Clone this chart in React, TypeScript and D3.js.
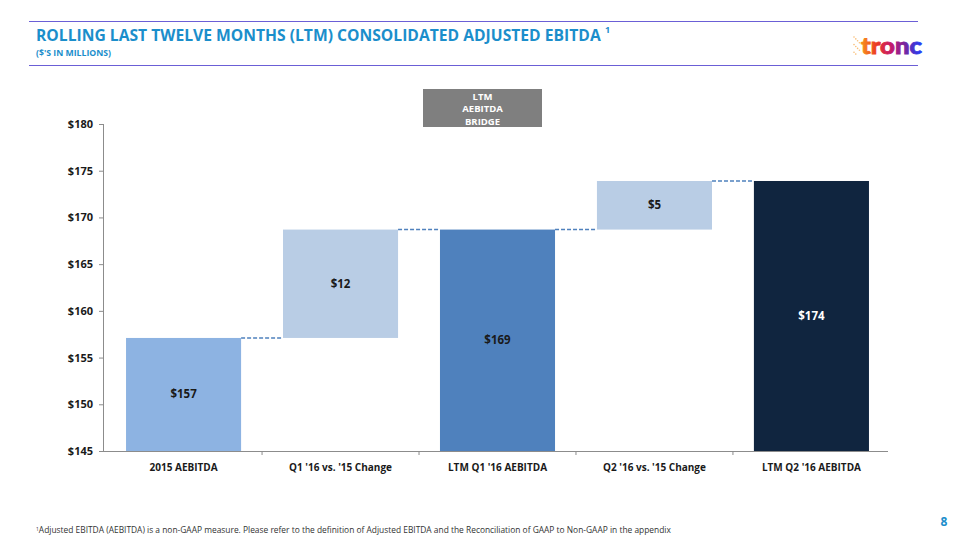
import React, { useLayoutEffect, useRef, useState } from "react";
import * as d3 from "d3";

const categories = [
  "2015 AEBITDA",
  "Q1 '16 vs. '15 Change",
  "LTM Q1 '16 AEBITDA",
  "Q2 '16 vs. '15 Change",
  "LTM Q2 '16 AEBITDA",
];
const barLow = [145, 157.1, 145, 168.7, 145];
const barHigh = [157.1, 168.7, 168.7, 173.9, 173.9];
const barLabels = ["$157", "$12", "$169", "$5", "$174"];
const barColors = ["#8db3e2", "#b9cde5", "#4f81bd", "#b9cde5", "#10253f"];
const labelColors = ["#1a1a1a", "#1a1a1a", "#1a1a1a", "#1a1a1a", "#ffffff"];
const yTicks = [145, 150, 155, 160, 165, 170, 175, 180];
const bridgeLines = ["LTM", "AEBITDA", "BRIDGE"];
const titleText = "ROLLING LAST TWELVE MONTHS (LTM) CONSOLIDATED ADJUSTED EBITDA";

const W = 960;
const H = 540;
const FONT = "'Open Sans', 'Noto Sans', sans-serif";

export default function App() {
  const titleRef = useRef<SVGTextElement>(null);
  const [titleSize, setTitleSize] = useState(16);
  useLayoutEffect(() => {
    const el = titleRef.current;
    if (!el) return;
    const len = el.getComputedTextLength();
    if (len > 0) {
      const target = 565;
      const s = (titleSize * target) / len;
      if (Math.abs(s - titleSize) > 0.05) setTitleSize(s);
    }
  }, [titleSize]);

  const y = d3.scaleLinear().domain([145, 180]).range([451, 124]);
  const x = d3
    .scaleBand<string>()
    .domain(categories)
    .range([105, 890])
    .paddingInner(0.267)
    .paddingOuter(0.134);
  const step = x.step();
  const axisX0 = 103;
  const axisX1 = 888;
  const boundaries = categories.slice(1).map((c) => (x(c) as number) - (step - x.bandwidth()) / 2);

  return (
    <svg
      width={W}
      height={H}
      style={{ position: "absolute", left: 0, top: 0, background: "#fff" }}
      fontFamily={FONT}
    >
      <defs>
        <linearGradient id="logoGrad" x1="0" x2="1" y1="0" y2="0">
          <stop offset="0%" stopColor="#f7941d" />
          <stop offset="25%" stopColor="#ec3a24" />
          <stop offset="50%" stopColor="#c2186f" />
          <stop offset="75%" stopColor="#6a2aa8" />
          <stop offset="100%" stopColor="#1e3cff" />
        </linearGradient>
      </defs>
      <rect x={0} y={0} width={W} height={H} fill="#fff" />
      {/* header */}
      <line x1={29} x2={918} y1={21.5} y2={21.5} stroke="#6b5fd6" strokeWidth={1.2} />
      <line x1={29} x2={918} y1={65.5} y2={65.5} stroke="#6b5fd6" strokeWidth={1.2} />
      <text ref={titleRef} x={36} y={41} fontSize={titleSize} fontWeight={700} fill="#1b8ecb">
        {titleText}
      </text>
      <text x={605} y={33} fontSize={9} fontWeight={700} fill="#1b8ecb">1</text>
      <text x={36} y={55.5} fontSize={8.5} fontWeight={700} fill="#1b8ecb" textLength={75} lengthAdjust="spacingAndGlyphs">
        ($'S IN MILLIONS)
      </text>
      {/* logo */}
      <g>
        {[0, 1, 2, 3, 4, 5, 6, 7, 8, 9].map((i) => (
          <circle key={i} cx={854 + (i % 4) * 1.8} cy={37 + i * 1.9} r={0.8} fill="#f7a84a" opacity={0.75} />
        ))}
        <text x={861} y={54} fontSize={22} fontWeight={900} fill="url(#logoGrad)" stroke="url(#logoGrad)" strokeWidth={0.8} textLength={61} lengthAdjust="spacingAndGlyphs" fontFamily="'Lato', 'Open Sans', sans-serif">
          tronc
        </text>
      </g>
      {/* LTM bridge box */}
      <rect x={423} y={89} width={119} height={38} fill="#7f7f7f" />
      {bridgeLines.map((t, i) => (
        <text key={t} x={482.5} y={99.5 + i * 12.5} fontSize={9.5} fontWeight={700} fill="#fff" textAnchor="middle">
          {t}
        </text>
      ))}
      {/* y axis */}
      <line x1={axisX0 + 0.5} x2={axisX0 + 0.5} y1={y(180)} y2={y(145)} stroke="#8c8c8c" />
      {yTicks.map((t) => (
        <g key={t}>
          <line x1={axisX0 - 4} x2={axisX0} y1={y(t) + 0.5} y2={y(t) + 0.5} stroke="#8c8c8c" />
          <text x={93} y={y(t) + 4} fontSize={11} fontWeight={700} fill="#1a1a1a" textAnchor="end">
            ${t}
          </text>
        </g>
      ))}
      {/* bars */}
      {categories.map((c, i) => (
        <rect
          key={c}
          x={x(c)}
          y={y(barHigh[i])}
          width={x.bandwidth()}
          height={y(barLow[i]) - y(barHigh[i])}
          fill={barColors[i]}
        />
      ))}
      {/* connectors */}
      {categories.slice(0, -1).map((c, i) => (
        <line
          key={c}
          x1={(x(c) as number) + x.bandwidth()}
          x2={x(categories[i + 1]) as number}
          y1={y(barHigh[i])}
          y2={y(barHigh[i])}
          stroke="#4f81bd"
          strokeWidth={1.5}
          strokeDasharray="4,2"
        />
      ))}
      {/* labels */}
      {categories.map((c, i) => (
        <text
          key={c}
          x={(x(c) as number) + x.bandwidth() / 2}
          y={y((barLow[i] + barHigh[i]) / 2) + 4}
          fontSize={11.5}
          fontWeight={700}
          fill={labelColors[i]}
          textAnchor="middle"
        >
          {barLabels[i]}
        </text>
      ))}
      {/* x axis */}
      <line x1={axisX0} x2={axisX1} y1={451.5} y2={451.5} stroke="#8c8c8c" />
      {boundaries.map((b, i) => (
        <line key={i} x1={b} x2={b} y1={451} y2={455} stroke="#8c8c8c" />
      ))}
      {categories.map((c) => (
        <text
          key={c}
          x={(x(c) as number) + x.bandwidth() / 2}
          y={471}
          fontSize={10}
          fontWeight={700}
          fill="#1a1a1a"
          textAnchor="middle"
        >
          {c}
        </text>
      ))}
      {/* footnote */}
      <text x={36} y={533} fontSize={8.5} fill="#333">
        <tspan fontSize={5} dy={-2}>1</tspan>
        <tspan dy={2} textLength={632} lengthAdjust="spacingAndGlyphs">
          Adjusted EBITDA (AEBITDA) is a non-GAAP measure.  Please refer to the definition of Adjusted EBITDA and the Reconciliation of GAAP to Non-GAAP in the appendix
        </tspan>
      </text>
      <text x={944} y={526} fontSize={12} fontWeight={700} fill="#1b8ecb" textAnchor="middle">
        8
      </text>
    </svg>
  );
}
